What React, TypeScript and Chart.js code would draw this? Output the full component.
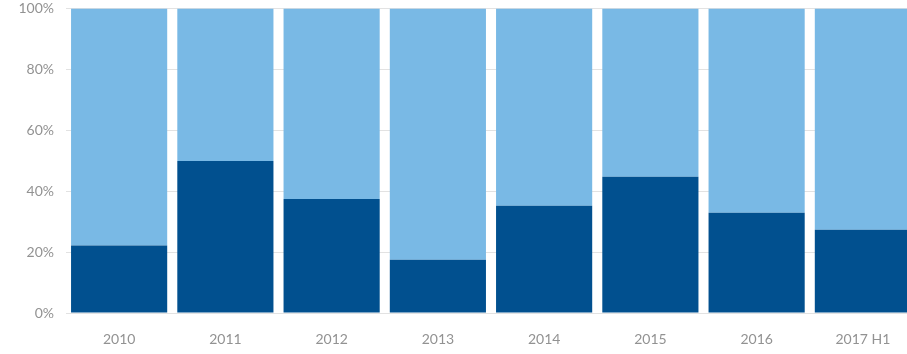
import React, { useEffect, useRef } from "react";
import { Chart, registerables } from "chart.js";

Chart.register(...registerables);

const categories = ["2010", "2011", "2012", "2013", "2014", "2015", "2016", "2017 H1"];
const darkShare = [22.2, 49.9, 37.4, 17.5, 35.2, 44.7, 32.9, 27.3];
const lightShare = darkShare.map((v) => Math.round((100 - v) * 10) / 10);
const yTicks = [0, 20, 40, 60, 80, 100];

export default function App() {
  const ref = useRef<HTMLCanvasElement | null>(null);
  useEffect(() => {
    if (!ref.current) return;
    const chart = new Chart(ref.current, {
      type: "bar",
      data: {
        labels: categories,
        datasets: [
          { label: "A", data: darkShare, backgroundColor: "#01508f", barPercentage: 0.905, categoryPercentage: 1 },
          { label: "B", data: lightShare, backgroundColor: "#79b9e5", barPercentage: 0.905, categoryPercentage: 1 },
        ],
      },
      options: {
        animation: false,
        responsive: true,
        maintainAspectRatio: false,
        layout: { padding: { top: 0, right: 0, left: 0, bottom: 0 } },
        plugins: { legend: { display: false }, tooltip: { enabled: false } },
        scales: {
          x: {
            stacked: true,
            grid: { display: false, drawTicks: false },
            border: { display: false },
            ticks: { color: "#929292", font: { family: "Lato", size: 14 }, padding: 18, maxRotation: 0 },
            afterFit: (s: any) => { s.height = 41; },
          },
          y: {
            stacked: true,
            min: 0,
            max: 100,
            afterBuildTicks: (s: any) => { s.ticks = yTicks.map((v) => ({ value: v })); },
            grid: { color: "#e2e2e2", drawTicks: false },
            border: { display: false },
            ticks: {
              color: "#929292",
              font: { family: "Lato", size: 14 },
              padding: 12,
              callback: (v: any) => v + "%",
            },
            afterFit: (s: any) => { s.width = 66; },
          },
        },
      },
    });
    return () => chart.destroy();
  }, []);
  return (
    <div style={{ position: "absolute", left: 0, top: 0, width: 907, height: 354, overflow: "hidden", background: "#fff" }}>
      <div style={{ position: "absolute", left: 0, top: -12, width: 916, height: 366 }}>
        <canvas ref={ref} />
      </div>
    </div>
  );
}
